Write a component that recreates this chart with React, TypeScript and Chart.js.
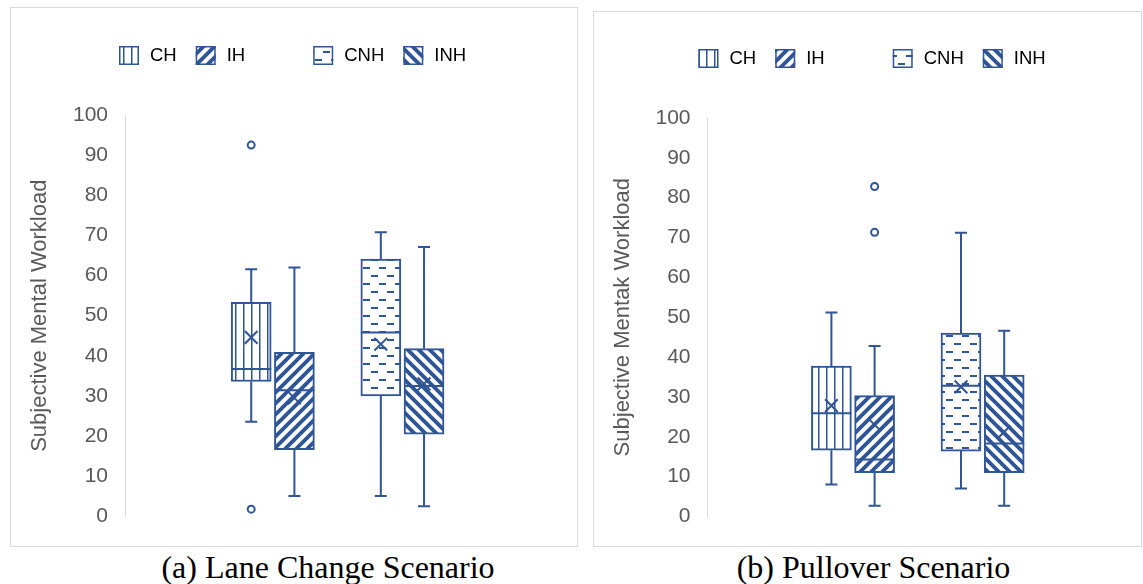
import React, { useEffect, useRef } from "react";
import { Chart, registerables } from "chart.js";

Chart.register(...registerables);

const BLUE = "#2F5597";
const AXIS_GREY = "#595959";
const BORDER_GREY = "#D9D9D9";

const categories = ["CH", "IH", "CNH", "INH"];
const patternKinds = ["vertical", "upDiagonal", "dashedHorizontal", "downDiagonal"];
const yTickValues = [0, 10, 20, 30, 40, 50, 60, 70, 80, 90, 100];

// (a) Lane Change Scenario
const laneMin = [23.6, 5.1, 5.1, 2.5];
const laneQ1 = [33.6, 16.6, 30, 20.5];
const laneMedian = [36.7, 31.4, 45.8, 32.5];
const laneQ3 = [53.3, 40.9, 64.1, 41.8];
const laneMax = [61.6, 62, 70.8, 67.1];
const laneMean = [44.6, 29.5, 42.9, 33];
const laneOutliers = [[92.5, 1.8], [], [], []];

// (b) Pullover Scenario
const pullMin = [8, 2.7, 7, 2.7];
const pullQ1 = [16.6, 11, 16.4, 11];
const pullMedian = [25.9, 14.3, 32.8, 18.3];
const pullQ3 = [37.7, 30.3, 46, 35.5];
const pullMax = [51.2, 42.8, 71.2, 46.6];
const pullMean = [27.8, 23, 32.5, 21.2];
const pullOutliers = [[], [82.8, 71.3], [], []];

type Stats = {
  min: number[];
  q1: number[];
  median: number[];
  q3: number[];
  max: number[];
  mean: number[];
  outliers: number[][];
};

const laneStats: Stats = {
  min: laneMin, q1: laneQ1, median: laneMedian, q3: laneQ3, max: laneMax, mean: laneMean, outliers: laneOutliers,
};
const pullStats: Stats = {
  min: pullMin, q1: pullQ1, median: pullMedian, q3: pullQ3, max: pullMax, mean: pullMean, outliers: pullOutliers,
};

// category slot on the x axis: two pairs with an empty slot between them
function slotOf(i: number) {
  return i + (i >= 2 ? 1 : 0);
}

function makePattern(kind: string): CanvasPattern {
  const c = document.createElement("canvas");
  const g = c.getContext("2d")!;
  if (kind === "vertical") {
    c.width = 8; c.height = 8;
    g.fillStyle = "#fff"; g.fillRect(0, 0, 8, 8);
    g.fillStyle = BLUE; g.fillRect(0, 0, 1.5, 8);
  } else if (kind === "dashedHorizontal") {
    c.width = 16; c.height = 16;
    g.fillStyle = "#fff"; g.fillRect(0, 0, 16, 16);
    g.fillStyle = BLUE;
    g.fillRect(0, 3, 7, 2);
    g.fillRect(8, 11, 7, 2);
  } else {
    const T = 11;
    c.width = T; c.height = T;
    g.fillStyle = "#fff"; g.fillRect(0, 0, T, T);
    if (kind === "downDiagonal") { g.translate(T, 0); g.scale(-1, 1); }
    g.strokeStyle = BLUE; g.lineWidth = 3.8; g.lineCap = "square";
    g.beginPath();
    for (const k of [0, T, 2 * T]) {
      g.moveTo(k + 2, -2);
      g.lineTo(k - T - 2, T + 2);
    }
    g.stroke();
  }
  return g.createPattern(c, "repeat")!;
}

type PanelProps = {
  stats: Stats;
  yTitle: string;
  width: number;
  height: number;
  padTop: number;
  padBottom: number;
  padRight: number;
  axisWidth: number;
  xMin: number;
  xMax: number;
  legendX: number;
  legendY: number;
};

function BoxPanel(p: PanelProps) {
  const ref = useRef<HTMLCanvasElement>(null);
  useEffect(() => {
    const patterns = patternKinds.map(makePattern);
    const s = p.stats;

    const extras = {
      id: "boxExtras",
      beforeDatasetsDraw(chart: any) {
        const { ctx, scales } = chart;
        const x = scales.x, y = scales.y;
        ctx.save();
        ctx.strokeStyle = BLUE;
        ctx.lineWidth = 2;
        ctx.beginPath();
        categories.forEach((_, i) => {
          const cx = x.getPixelForValue(slotOf(i));
          const yMax = y.getPixelForValue(s.max[i]);
          const yQ3 = y.getPixelForValue(s.q3[i]);
          const yQ1 = y.getPixelForValue(s.q1[i]);
          const yMin = y.getPixelForValue(s.min[i]);
          ctx.moveTo(cx, yQ3); ctx.lineTo(cx, yMax);
          ctx.moveTo(cx - 6, yMax); ctx.lineTo(cx + 6, yMax);
          ctx.moveTo(cx, yQ1); ctx.lineTo(cx, yMin);
          ctx.moveTo(cx - 6, yMin); ctx.lineTo(cx + 6, yMin);
        });
        ctx.stroke();
        ctx.restore();
      },
      afterDatasetDraw(chart: any, args: any) {
        if (args.index !== 0) return;
        const { ctx, scales } = chart;
        const y = scales.y;
        const meta = chart.getDatasetMeta(0);
        ctx.save();
        ctx.strokeStyle = BLUE;
        ctx.lineWidth = 2;
        ctx.beginPath();
        meta.data.forEach((bar: any, i: number) => {
          const { x: bx, width: bw } = bar.getProps(["x", "width"], true);
          const ym = y.getPixelForValue(s.median[i]);
          ctx.moveTo(bx - bw / 2, ym);
          ctx.lineTo(bx + bw / 2, ym);
        });
        ctx.stroke();
        ctx.restore();
      },
      afterDraw(chart: any) {
        const { ctx } = chart;
        ctx.save();
        ctx.font = "18.5px 'Liberation Sans'";
        ctx.textBaseline = "middle";
        let lx = p.legendX;
        const ly = p.legendY;
        categories.forEach((name, i) => {
          ctx.fillStyle = patterns[i];
          ctx.fillRect(lx, ly, 20, 19);
          ctx.strokeStyle = BLUE;
          ctx.lineWidth = 1.5;
          ctx.strokeRect(lx + 0.75, ly + 0.75, 18.5, 17.5);
          ctx.fillStyle = "#000";
          ctx.fillText(name, lx + 31, ly + 10);
          lx += 31 + ctx.measureText(name).width + (i === 1 ? 68 : 19);
        });
        ctx.restore();
      },
    };

    const chart = new Chart(ref.current!, {
      type: "bar",
      data: {
        datasets: [
          {
            type: "bar",
            label: "box",
            data: categories.map((_, i) => ({ x: slotOf(i), y: [s.q1[i], s.q3[i]] })) as any,
            backgroundColor: patterns as any,
            borderColor: BLUE,
            borderWidth: 2,
            borderSkipped: false,
            barThickness: 40,
            order: 3,
          },
          {
            type: "scatter",
            label: "mean",
            data: categories.map((_, i) => ({ x: slotOf(i), y: s.mean[i] })),
            pointStyle: "crossRot",
            pointRadius: 9,
            borderColor: BLUE,
            backgroundColor: BLUE,
            borderWidth: 2,
            order: 1,
          } as any,
          {
            type: "scatter",
            label: "outliers",
            data: categories.flatMap((_, i) => s.outliers[i].map((v) => ({ x: slotOf(i), y: v }))),
            pointStyle: "circle",
            pointRadius: 3.5,
            borderColor: BLUE,
            backgroundColor: "#fff",
            borderWidth: 2,
            order: 1,
          } as any,
        ],
      },
      options: {
        responsive: false,
        animation: false,
        devicePixelRatio: 1,
        events: [],
        layout: { padding: { top: p.padTop, bottom: p.padBottom, left: 0, right: p.padRight } },
        plugins: {
          legend: { display: false },
          tooltip: { enabled: false },
        },
        scales: {
          x: { type: "linear", min: p.xMin, max: p.xMax, offset: false, display: false },
          y: {
            type: "linear",
            min: 0,
            max: 100,
            afterBuildTicks: (scale: any) => {
              scale.ticks = yTickValues.map((v) => ({ value: v }));
            },
            afterFit: (scale: any) => {
              scale.width = p.axisWidth;
            },
            grid: { display: false, drawTicks: false },
            border: { display: true, color: BORDER_GREY, width: 1 },
            ticks: {
              padding: 17,
              color: AXIS_GREY,
              font: { family: "'Liberation Sans'", size: 21 },
            },
            title: {
              display: true,
              text: p.yTitle,
              color: AXIS_GREY,
              font: { family: "'Liberation Sans'", size: 22 },
              padding: { top: 16, bottom: 0 },
            },
          },
        },
      },
      plugins: [extras as any],
    });
    return () => chart.destroy();
  }, []);
  return <canvas ref={ref} width={p.width} height={p.height} style={{ display: "block", width: p.width, height: p.height }} />;
}

const captionStyle: React.CSSProperties = {
  position: "absolute",
  fontFamily: "'Liberation Serif', 'Times New Roman', serif",
  fontSize: 32,
  lineHeight: "36px",
  color: "#000",
  textAlign: "center",
  whiteSpace: "nowrap",
};

export default function App() {
  return (
    <div style={{ position: "absolute", left: 0, top: 0, width: 1143, height: 584, background: "#fff" }}>
      <div style={{ position: "absolute", left: 10, top: 7, width: 568, height: 540, boxSizing: "border-box", border: `1px solid ${BORDER_GREY}` }}>
        <BoxPanel
          stats={laneStats}
          yTitle="Subjective Mental Workload"
          width={566}
          height={538}
          padTop={107}
          padBottom={28}
          padRight={10}
          axisWidth={114}
          xMin={-2.921}
          xMax={7.286}
          legendX={108}
          legendY={38}
        />
      </div>
      <div style={{ position: "absolute", left: 593, top: 11, width: 549, height: 536, boxSizing: "border-box", border: `1px solid ${BORDER_GREY}` }}>
        <BoxPanel
          stats={pullStats}
          yTitle="Subjective Mentak Workload"
          width={547}
          height={534}
          padTop={106}
          padBottom={28}
          padRight={10}
          axisWidth={113.5}
          xMin={-2.868}
          xMax={6.912}
          legendX={104.5}
          legendY={37}
        />
      </div>
      <div style={{ ...captionStyle, left: 28, width: 600, top: 549 }}>(a) Lane Change Scenario</div>
      <div style={{ ...captionStyle, left: 573.5, width: 600, top: 549 }}>(b) Pullover Scenario</div>
    </div>
  );
}
